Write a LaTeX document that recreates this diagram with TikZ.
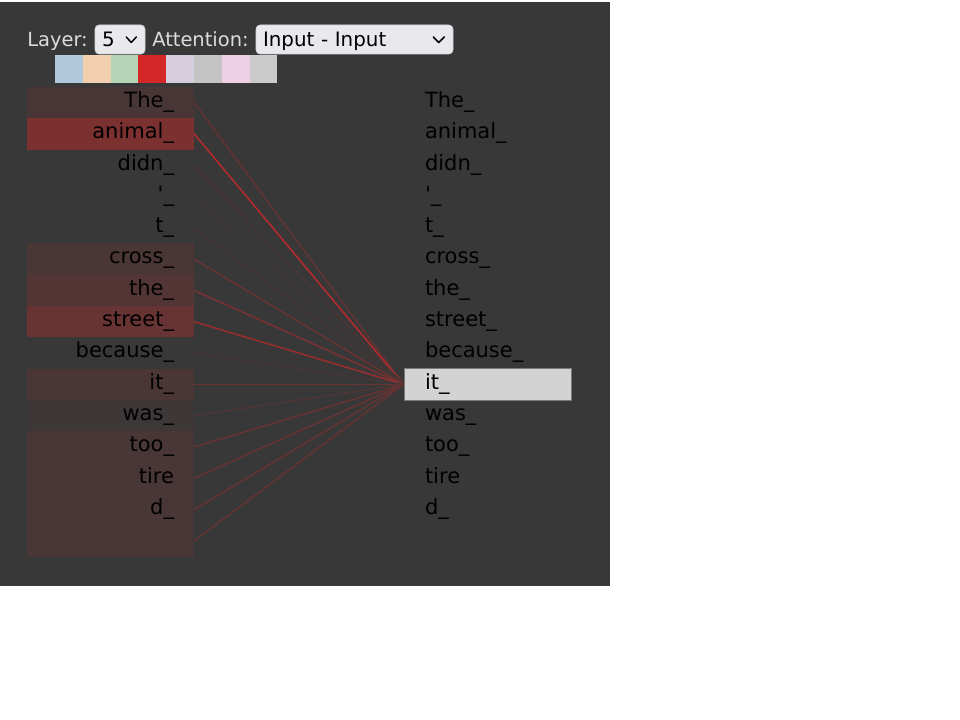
\documentclass[tikz,border=0pt]{standalone}
\usepackage{fontspec}
\setmainfont{DejaVu Sans}
\usepackage{tikz}

\definecolor{panel}{HTML}{383838}
\definecolor{attn}{HTML}{D62728}
\definecolor{hdrtext}{HTML}{DCDCDC}
\definecolor{menufill}{HTML}{E9E9ED}
\definecolor{pickfill}{HTML}{D3D3D3}
\definecolor{pickline}{HTML}{7A7A7A}
\definecolor{sw1}{HTML}{B0C8DC}
\definecolor{sw2}{HTML}{F2CFAF}
\definecolor{sw3}{HTML}{B5D3B5}
\definecolor{sw4}{HTML}{D62728}
\definecolor{sw5}{HTML}{D6CEDD}
\definecolor{sw6}{HTML}{C4C4C4}
\definecolor{sw7}{HTML}{EFCFE4}
\definecolor{sw8}{HTML}{CBCBCB}

\begin{document}
\begin{tikzpicture}[x=0.75pt,y=-0.75pt,every node/.style={inner sep=0pt,node distance=23.475pt}]

% Define block styles
\tikzstyle{src} = [rectangle, minimum width=125.25pt, minimum height=23.5pt,
    text width=95.25pt, inner xsep=15pt, align=right, text height=11.25pt, text depth=4pt,
    font=\fontsize{15.75}{18}\selectfont]
\tikzstyle{dst} = [rectangle, minimum width=125.25pt, minimum height=23.5pt,
    text width=93.75pt, inner xsep=15.75pt, align=left, text height=11.25pt, text depth=4pt,
    font=\fontsize{15.75}{18}\selectfont]
\tikzstyle{hdr} = [text=hdrtext, font=\fontsize{14.6}{17}\selectfont]
\tikzstyle{menu} = [rectangle, rounded corners=3pt, fill=menufill, draw=menufill!80!gray,
    line width=0.4pt, minimum height=21.75pt, inner xsep=5.25pt, align=left,
    text height=12.75pt, text depth=1.5pt, font=\fontsize{14.9}{17}\selectfont]
\tikzstyle{swatch} = [rectangle, minimum width=20.85pt, minimum height=21pt, node distance=20.85pt]
\tikzstyle{chev} = [draw=black, line width=1.1pt, line cap=round, line join=round]
\tikzstyle{link} = [draw, line width=1.2pt]

\useasboundingbox (0,0) rectangle (960,720);
\fill[white] (0,0) rectangle (960,720);
\fill[panel] (0,2) rectangle (610,586);

% header
\node[hdr, anchor=base west] (layer) at (27,47) {Layer:};
\node[menu, text width=27pt] (laymenu) at (120,39.5) {5};
\draw[chev] (laymenu.east) ++(-19,-2.5) -- ++(5,5.5) -- ++(5,-5.5);
\node[hdr, anchor=base west] (attention) at (152,47) {Attention:};
\node[menu, text width=137.25pt] (attmenu) at (354.5,39.5) {Input - Input};
\draw[chev] (attmenu.east) ++(-20,-2.5) -- ++(5.5,5.5) -- ++(5.5,-5.5);

% head colours
\node[swatch, fill=sw1] (c1) at (68.9,69) {};
\node[swatch, fill=sw2, right of=c1] (c2) {};
\node[swatch, fill=sw3, right of=c2] (c3) {};
\node[swatch, fill=sw4, right of=c3] (c4) {};
\node[swatch, fill=sw5, right of=c4] (c5) {};
\node[swatch, fill=sw6, right of=c5] (c6) {};
\node[swatch, fill=sw7, right of=c6] (c7) {};
\node[swatch, fill=sw8, right of=c7] (c8) {};

% left tokens
\node[src, fill=attn!10!panel] (s1) at (110.5,102.65) {The\_};
\node[src, fill=attn!43!panel, below of=s1] (s2) {animal\_};
\node[src, below of=s2] (s3) {didn\_};
\node[src, below of=s3] (s4) {\textquotesingle\_};
\node[src, below of=s4] (s5) {t\_};
\node[src, fill=attn!12!panel, below of=s5] (s6) {cross\_};
\node[src, fill=attn!17!panel, below of=s6] (s7) {the\_};
\node[src, fill=attn!30!panel, below of=s7] (s8) {street\_};
\node[src, below of=s8] (s9) {because\_};
\node[src, fill=attn!12!panel, below of=s9] (s10) {it\_};
\node[src, fill=attn!4!panel, below of=s10] (s11) {was\_};
\node[src, fill=attn!11!panel, below of=s11] (s12) {too\_};
\node[src, fill=attn!11!panel, below of=s12] (s13) {tire};
\node[src, fill=attn!11!panel, below of=s13] (s14) {d\_};
\node[src, fill=attn!11!panel, below of=s14] (s15) {};

% right tokens
\node[dst] (d1) at (487.5,102.65) {The\_};
\node[dst, below of=d1] (d2) {animal\_};
\node[dst, below of=d2] (d3) {didn\_};
\node[dst, below of=d3] (d4) {\textquotesingle\_};
\node[dst, below of=d4] (d5) {t\_};
\node[dst, below of=d5] (d6) {cross\_};
\node[dst, below of=d6] (d7) {the\_};
\node[dst, below of=d7] (d8) {street\_};
\node[dst, below of=d8] (d9) {because\_};
\node[dst, fill=pickfill, draw=pickline, line width=0.75pt, below of=d9] (d10) {it\_};
\node[dst, below of=d10] (d11) {was\_};
\node[dst, below of=d11] (d12) {too\_};
\node[dst, below of=d12] (d13) {tire};
\node[dst, below of=d13] (d14) {d\_};

% attention lines
\draw[link, draw=attn!25!panel] (s1.east) -- (d10.west);
\draw[link, draw=attn!78!panel] (s2.east) -- (d10.west);
\draw[link, draw=attn!10!panel] (s3.east) -- (d10.west);
\draw[link, draw=attn!5!panel] (s4.east) -- (d10.west);
\draw[link, draw=attn!8!panel] (s5.east) -- (d10.west);
\draw[link, draw=attn!30!panel] (s6.east) -- (d10.west);
\draw[link, draw=attn!40!panel] (s7.east) -- (d10.west);
\draw[link, draw=attn!60!panel] (s8.east) -- (d10.west);
\draw[link, draw=attn!8!panel] (s9.east) -- (d10.west);
\draw[link, draw=attn!30!panel] (s10.east) -- (d10.west);
\draw[link, draw=attn!14!panel] (s11.east) -- (d10.west);
\draw[link, draw=attn!28!panel] (s12.east) -- (d10.west);
\draw[link, draw=attn!28!panel] (s13.east) -- (d10.west);
\draw[link, draw=attn!28!panel] (s14.east) -- (d10.west);
\draw[link, draw=attn!26!panel] (s15.east) -- (d10.west);

\end{tikzpicture}
\end{document}
